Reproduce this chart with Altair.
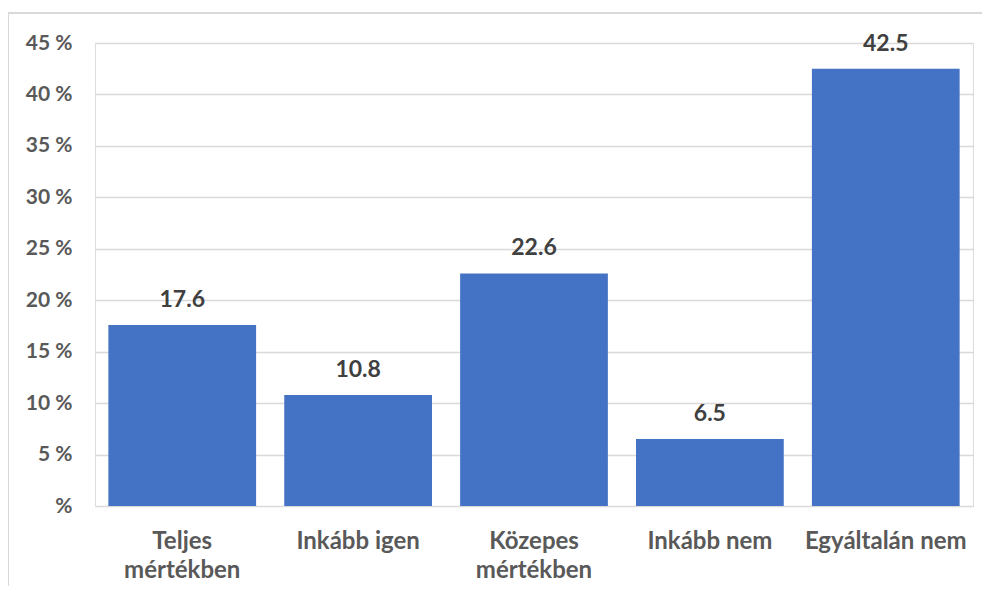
import altair as alt
import pandas as pd

categories = ["Teljes mértékben", "Inkább igen", "Közepes mértékben", "Inkább nem", "Egyáltalán nem"]
values = [17.6, 10.8, 22.6, 6.5, 42.5]
y_ticks = [0, 5, 10, 15, 20, 25, 30, 35, 40, 45]

df = pd.DataFrame({"cat": categories, "val": values})

FONT = "Lato"

label_expr = (
    "datum.label == 'Teljes mértékben' ? ['Teljes', 'mértékben'] : "
    "datum.label == 'Közepes mértékben' ? ['Közepes', 'mértékben'] : datum.label"
)

x = alt.X(
    "cat:N",
    sort=categories,
    title=None,
    scale=alt.Scale(paddingInner=0.16, paddingOuter=0.076),
    axis=alt.Axis(
        labelAngle=0,
        labelFont=FONT,
        labelFontWeight="bold",
        labelFontSize=24,
        labelColor="#595959",
        labelLineHeight=29,
        labelPadding=23,
        labelExpr=label_expr,
        ticks=False,
        domain=False,
        labelLimit=300,
    ),
)

y = alt.Y(
    "val:Q",
    title=None,
    scale=alt.Scale(domain=[0, 45], nice=False),
    axis=alt.Axis(
        values=y_ticks,
        labelExpr="datum.value == 0 ? '%' : datum.label + ' %'",
        labelFont=FONT,
        labelFontWeight="bold",
        labelFontSize=21,
        labelColor="#595959",
        labelPadding=23,
        ticks=False,
        domain=False,
        grid=True,
        gridColor="#d9d9d9",
        gridWidth=1.3,
    ),
)

bars = alt.Chart(df).mark_bar(color="#4472C4").encode(x=x, y=y)

text = alt.Chart(df).mark_text(
    font=FONT, fontWeight="bold", fontSize=23, color="#404040",
    baseline="alphabetic", dy=-18,
).encode(x=alt.X("cat:N", sort=categories), y="val:Q", text=alt.Text("val:Q", format=".1f"))

frame = alt.Chart(df).mark_rect(
    fill=None, stroke="#d9d9d9", strokeWidth=1.5
).encode(
    x=alt.value(-87), x2=alt.value(1000), y=alt.value(-30), y2=alt.value(700)
)

chart = (bars + text + frame).properties(
    width=878,
    height=463,
    autosize=alt.AutoSizeParams(type="none"),
    padding={"left": 87, "top": 35, "right": 9, "bottom": 80},
).configure_view(stroke=None).configure(background="white")

chart.save("out.html", embed_options={"renderer": "svg", "actions": False})
